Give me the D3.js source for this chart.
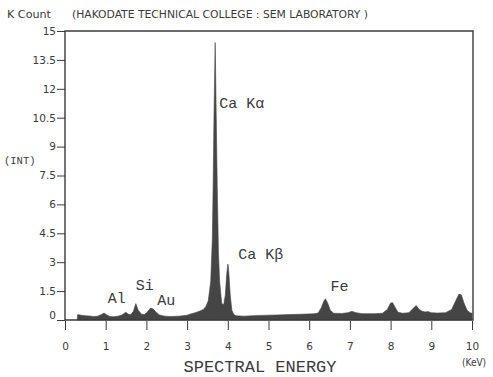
<!DOCTYPE html>
<html>
<head>
<meta charset="utf-8">
<script src="https://cdn.jsdelivr.net/npm/d3@7"></script>
<style>
  html, body { margin: 0; padding: 0; background: #fff; }
  svg { display: block; }
</style>
</head>
<body>
<svg id="chart" width="493" height="377"></svg>
<script>
// ---- data ----
const energy = [0.30,0.31,0.40,0.50,0.60,0.70,0.80,0.90,0.96,1.02,1.10,1.20,1.30,1.40,1.49,1.56,1.62,1.68,1.74,1.80,1.88,1.95,2.02,2.10,2.16,2.24,2.32,2.45,2.60,2.80,3.00,3.10,3.20,3.30,3.40,3.46,3.52,3.58,3.62,3.64,3.66,3.68,3.69,3.70,3.72,3.74,3.77,3.80,3.85,3.90,3.94,3.97,4.00,4.01,4.03,4.06,4.10,4.15,4.20,4.40,4.60,4.80,5.00,5.20,5.50,5.80,6.10,6.22,6.30,6.36,6.40,6.45,6.52,6.60,6.80,6.95,7.05,7.15,7.30,7.60,7.80,7.92,8.00,8.05,8.10,8.18,8.30,8.45,8.55,8.63,8.70,8.78,8.85,8.92,9.00,9.15,9.35,9.50,9.60,9.68,9.74,9.80,9.88,9.95,10.00,10.00];
const counts = [0.00,0.28,0.25,0.22,0.21,0.18,0.20,0.29,0.36,0.27,0.18,0.17,0.20,0.26,0.40,0.30,0.28,0.45,0.85,0.50,0.30,0.28,0.40,0.62,0.58,0.40,0.26,0.20,0.18,0.20,0.25,0.32,0.38,0.45,0.55,0.70,1.00,2.00,4.20,7.00,10.50,13.20,14.40,13.00,10.00,7.00,3.50,2.00,0.85,0.80,1.30,2.30,2.90,2.85,2.30,1.30,0.50,0.28,0.22,0.20,0.22,0.24,0.25,0.26,0.28,0.30,0.32,0.36,0.65,0.98,1.10,0.90,0.50,0.35,0.34,0.38,0.45,0.38,0.33,0.33,0.35,0.55,0.88,0.90,0.70,0.40,0.35,0.38,0.60,0.75,0.55,0.45,0.42,0.44,0.38,0.36,0.38,0.55,1.00,1.35,1.30,0.90,0.50,0.38,0.35,0.00];
const xTicks = [0,1,2,3,4,5,6,7,8,9,10];
const yTicks = [0,1.5,3,4.5,6,7.5,9,10.5,12,13.5,15];
const peakLabels = ["Al","Si","Au","Ca Kα","Ca Kβ","Fe"];
const peakEnergy = [1.49,1.74,2.12,3.69,4.01,6.40];

// ---- layout ----
const svg = d3.select("#chart");
const x = d3.scaleLinear().domain([0,10]).range([65,472]);
const y = d3.scaleLinear().domain([0,15]).range([320,31]);
const ink = "#3a3a3a";

// spectrum
const pts = energy.map((e,i)=>({e, c: counts[i]}));
const area = d3.area().x(d=>x(d.e)).y0(y(0)).y1(d=>y(d.c));
svg.append("path").datum(pts).attr("d", area)
  .attr("fill", "#454545").attr("stroke", "#454545").attr("stroke-width", 0.6);

// frame
svg.append("path")
  .attr("d", `M${x(0)},${y(0)} L${x(0)},${y(15)} L${x(10)+1},${y(15)} L${x(10)+1},${y(0)} Z`)
  .attr("fill","none").attr("stroke", ink).attr("stroke-width", 1.4);

// y axis
const yAxis = d3.axisLeft(y).tickValues(yTicks).tickSize(8).tickPadding(1)
  .tickFormat(d => d3.format("")(d));
const gy = svg.append("g").attr("transform", `translate(${x(0)},0)`).call(yAxis);
gy.select(".domain").remove();
gy.selectAll(".tick line").attr("stroke", ink).attr("stroke-width", 1);
gy.selectAll(".tick text").attr("fill", ink)
  .style("font-family", "'DejaVu Sans', sans-serif").style("font-size", "10.5px")
  .attr("dy", d => d === 0 ? "-0.1em" : "0.32em");

// x axis
const xAxis = d3.axisBottom(x).tickValues(xTicks).tickSize(9).tickPadding(13)
  .tickFormat(d3.format("d"));
const gx = svg.append("g").attr("transform", `translate(0,${y(0)+1})`).call(xAxis);
gx.select(".domain").remove();
gx.selectAll(".tick line").attr("stroke", ink).attr("stroke-width", 1);
gx.selectAll(".tick text").attr("fill", ink)
  .style("font-family", "'DejaVu Sans', sans-serif").style("font-size", "10.5px");

// titles
const sans = "'DejaVu Sans Condensed','DejaVu Sans',sans-serif";
svg.append("text").attr("x", 7).attr("y", 18).text("K Count")
  .attr("fill", ink).style("font-family", sans).style("font-size", "10px")
  .attr("textLength", 44).attr("lengthAdjust", "spacingAndGlyphs");
svg.append("text").attr("x", 72).attr("y", 18).text("(HAKODATE TECHNICAL COLLEGE : SEM LABORATORY )")
  .attr("fill", ink).style("font-family", sans).style("font-size", "10px")
  .attr("textLength", 296).attr("lengthAdjust", "spacingAndGlyphs");
svg.append("text").attr("x", 4).attr("y", 164).text("(INT)")
  .attr("fill", ink).style("font-family", "'Liberation Mono', monospace").style("font-size", "10.5px");
svg.append("text").attr("x", 260).attr("y", 372).attr("text-anchor","middle").text("SPECTRAL ENERGY")
  .attr("fill", ink).style("font-family", "'Liberation Mono', monospace").style("font-size", "17px");
svg.append("text").attr("x", 462).attr("y", 366).text("(KeV)")
  .attr("fill", ink).style("font-family", sans).style("font-size", "10px");

// peak labels
const labelDx = [-18,0,6,4,10,5];
const labelY  = [303,290,305,108,259,291];
svg.append("g").selectAll("text").data(peakLabels).join("text")
  .attr("x", (d,i) => x(peakEnergy[i]) + labelDx[i])
  .attr("y", (d,i) => labelY[i])
  .text(d => d)
  .attr("fill", ink).style("font-family", "'Liberation Mono', monospace").style("font-size", "15px");
</script>
</body>
</html>
